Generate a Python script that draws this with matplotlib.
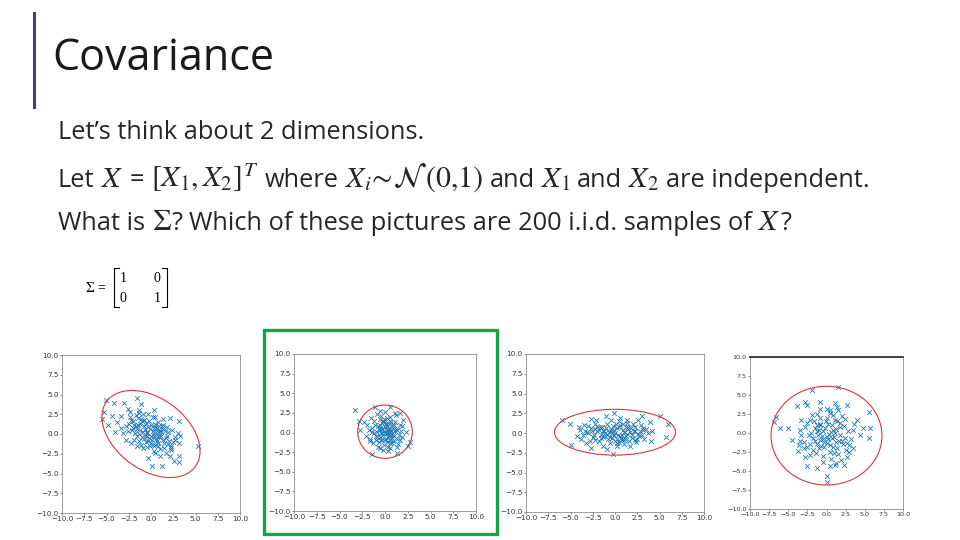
import matplotlib.pyplot as plt
from matplotlib.patches import Ellipse, Rectangle
from matplotlib.lines import Line2D
from matplotlib.offsetbox import TextArea, HPacker, AnnotationBbox

plt.rcParams['mathtext.fontset'] = 'stix'

# ---- slide text ----
title = "Covariance"
line1 = "Let\u2019s think about 2 dimensions."
# words of each line as (text, is_math); a list glues its parts with no space
line2 = [("Let", 0), ("$X$", 1), ("=", 0), ("$[X_1, X_2]^T$", 1), ("where", 0),
         (r"$X_i\!\sim\!\mathcal{N}\,(0{,}1)$", 1), ("and", 0), ("$X_1$", 1), ("and", 0),
         ("$X_2$", 1), ("are independent.", 0)]
line3 = [("What is", 0), [(r"$\Sigma$", 1), ("?", 0)],
         ("Which of these pictures are 200 i.i.d. samples of", 0), [("$X$", 1), ("?", 0)]]
sigma_rows = [["1", "0"], ["0", "1"]]
ticks = [-10, -7.5, -5, -2.5, 0, 2.5, 5, 7.5, 10]

# ---- sample clouds ----
p1_x = [-5.1, -4.2, -3.0, -1.6, -1.1, -5.3, -4.4, -3.4, -2.6, -2.4, -5.5, -4.8, -3.8, -4.0, -3.4,
        -3.1, -2.8, -2.5, -2.0, -1.7, -1.4, -0.9, -0.8, -0.3, 0.3, 0.5, 0.8, 1.3, 2.1, 3.2,
        1.3, 1.8, 2.4, 3.0, 3.3, 2.7, 3.1, 2.3, 1.5, 0.8, 0.3, -0.1, -0.9, -1.6, -2.2,
        5.3, 3.2, 2.6, 2.1, 1.0, 1.2, 0.1, -0.3, 3.1, 1.7,
        -1.2, -0.8, -0.5, 0.2, 0.6, -0.3, 0.9, -1.5, -1.0, 0.4, 1.1, -0.6, 0.1, 1.4, -1.8,
        -0.2, 0.8, -1.3, 1.7, 0.3, -0.9, -2.0, -1.6, 0.0, 0.7, 1.2, 2.0, -0.4, 0.5, -2.3,
        -1.1, 1.9, 2.5, -0.7, 0.0, -2.6, -1.9, 1.0, 0.2, -1.4,
        -0.5, 0.3, -1.7, 1.5, -0.1, 0.9, -1.2, 0.6, -2.1, 1.8, -0.8, 0.2, 1.1, -1.5, 0.4,
        -0.3, 2.2, -2.4, 0.7, -0.6, 1.3, -1.0, 0.0, 1.6, -1.9, 0.5, -0.4, 2.7, -2.8, 0.9,
        -1.3, 1.0, -0.2, 0.3, -0.7, 1.9, -1.1, 0.8, -1.6, 2.3]
p1_y = [4.3, 3.9, 3.9, 4.6, 3.8, 2.8, 2.3, 2.3, 3.2, 2.8, 1.9, 1.2, 1.5, 0.3, 0.7,
        0.1, -0.7, 1.3, 1.6, 2.4, 3.0, 2.5, 1.8, 2.5, 3.0, 2.1, 1.5, 1.9, 2.0, 1.7,
        1.1, 0.9, 0.5, 0.1, -0.3, -0.7, -1.2, -1.5, -1.8, -1.5, -2.1, -1.5, -1.8, -1.5, -1.2,
        -1.5, -2.8, -3.4, -2.8, -2.8, -4.0, -4.1, -3.1, -3.5, -2.4,
        0.5, 1.0, -0.3, 0.4, -0.6, 0.9, 0.2, 1.2, -0.4, 1.3, -0.2, -1.0, -0.8, 0.6, 0.1,
        1.6, -1.2, -0.9, -0.5, 0.0, 0.2, 0.8, -0.3, 1.1, 0.8, 1.0, -0.9, -1.6, -1.4, 1.8,
        1.9, 0.3, -1.0, 0.6, -0.2, 0.4, -0.8, -1.9, 2.2, 2.6,
        0.1, -0.3, 1.0, -1.1, 0.6, -0.4, 1.3, 0.2, 0.5, -0.2, -0.6, -1.4, 0.3, 2.0, 0.9,
        -0.9, -1.8, 2.1, -0.9, 1.4, -0.7, 1.6, -1.1, 0.4, 1.1, -2.4, 0.2, -0.4, 1.0, 1.0,
        0.0, 0.5, -0.5, 0.8, -0.2, -1.3, -1.4, -0.3, 0.6, -2.0]

p2_x = [-3.3, -2.9, -2.3, -2.7, -2.1, -1.4, -1.1, -0.6, 0.6, 1.05, 1.6, 1.9, 2.3, 1.6, 2.5,
        2.8, 1.3, 0.35, -0.5, 1.3,
        -0.5, 0.2, 0.7, -1.0, 0.1, 1.2, -0.3, 0.5, -1.4, 0.9, -0.7, 0.0, 1.5, -1.2, 0.4,
        -0.2, 0.8, -0.9, 0.3, 1.1, -1.6, 0.6, -0.4, 1.8, -0.1, 0.2, -1.8, 1.3, -0.6, 0.7,
        0.0, -1.1, 1.0, -0.8, 0.5, 1.6, -0.3, 0.3, -1.3, 0.9, -0.6, 0.1, 1.4, -0.2, 0.6,
        -2.0, -1.7, 2.0, 0.0, 1.2, -0.9, 0.4, -0.4, 0.8, -0.1, 1.9, -1.5, 0.2,
        0.1, -0.4, 0.6, -0.8, 0.3, 0.9, -0.2, -1.0, 0.5, 0.0, -0.6, 1.1, -0.3, 0.4, -1.2,
        0.8, 0.2, -0.5, 0.7, -0.1, 1.3, -0.9, 0.3, -0.7, 0.6, 0.0, -0.3, 1.0, -1.4, 0.5]
p2_y = [2.9, 1.5, 1.4, 0.3, -0.5, -2.8, 3.2, 2.8, 3.2, 2.5, 2.5, 0.8, 0.1, -0.9, -1.7,
        -1.2, -1.9, -2.3, -2.0, -2.6,
        0.3, 0.8, -0.2, -0.4, -0.9, 0.5, 1.2, 1.5, 0.6, -1.1, -1.2, 0.0, -0.3, 1.5, -0.5,
        -0.3, 0.9, 0.1, 0.3, 1.4, -0.8, 2.0, 2.1, 0.2, -1.6, 1.9, 0.3, -0.8, -0.6, 0.2,
        0.7, 1.0, -0.5, -1.8, -1.3, 1.0, 0.5, -0.1, -1.3, 0.6, 1.7, 1.1, -1.5, -2.2, -2.0,
        1.0, -1.1, 1.6, 2.6, 2.2, 2.4, 0.6, -0.9, -0.7, 0.2, -0.6, 1.9, -1.2,
        0.4, -0.1, 0.5, 0.8, -0.6, -0.3, 1.5, -0.9, 0.1, -0.8, 0.9, 0.2, -1.0, 1.1, -0.1,
        -1.4, 0.0, 0.6, 1.3, 1.7, 0.3, -0.6, -1.8, 0.4, -0.9, 1.4, 0.0, 0.9, 0.1, -0.3]

p3_x = [-5.9, -5.05, -4.9, -4.1, -3.8, -3.5, -2.7, -2.7, -2.1, -1.7, -1.0, -0.9, -0.2, -0.1, 0.6,
        1.3, 1.7, 2.6, 3.0, 3.9, 4.2, 4.0, 5.1, 5.7, 6.0, 3.2, 2.2, 1.0, 0.2, -1.3,
        -2.2, -3.0, -3.4, -3.9,
        -0.5, 0.2, 0.8, -1.2, 1.5, -2.0, 2.2, -0.3, 0.6, -1.5, 1.9, -2.5, 2.8, 0.0, -0.9,
        1.1, -1.8, 2.5, 0.4, -0.6, 1.4, -2.3, 3.0, -3.0, 0.9, -0.2, 1.7, -1.1, 0.3, 2.0,
        -1.6, -0.8, 1.2, -2.8, 3.5, -3.6, 0.5, -0.4, 1.0, -1.3, 2.4, -2.2, 0.7, -0.1, 1.8,
        -1.0, 2.9, -2.6, 0.1, 1.3, -0.7, 3.3, -3.3, 0.2, 1.6,
        -1.4, 0.6, 2.1, -0.4, 1.0, -2.4, 3.1, -1.8, 0.2, 2.6, -0.9, 1.5, -3.2, 0.8, -0.1,
        1.9, -2.0, 0.4, -1.2, 2.3, -0.6, 1.2, -2.7, 3.7, 0.0, -1.6, 2.7, -0.3, 0.9, -4.3]
p3_y = [1.7, 1.2, -1.5, 0.7, -0.8, 1.0, 1.8, -1.9, 1.65, 0.7, 2.2, -2.0, -2.6, 2.5, 1.9,
        1.65, -1.65, 1.7, 2.1, 1.4, 0.2, -1.0, 2.2, -0.5, 1.2, 0.4, -0.9, -0.9, -1.3, -0.5,
        -0.9, 0.0, 0.3, 0.4,
        0.3, 0.6, -0.2, -0.4, 0.5, 0.2, 0.8, -0.6, 1.0, 0.8, -0.3, -0.5, 0.3, 0.0, 1.2,
        -0.8, -1.0, -0.7, -1.1, -1.3, 1.3, 1.1, -0.2, 0.9, 0.4, 0.9, 0.1, 0.0, -0.3, 1.1,
        -0.2, -0.8, 0.8, -1.0, 0.5, -0.3, 1.5, 1.6, -1.4, -1.6, -1.2, 0.5, -0.6, -0.2, 0.6,
        0.6, 1.0, 0.3, 1.2, -0.1, 0.1, -0.8, -1.3, -1.7, -1.0,
        0.2, -0.4, 0.3, 0.5, 0.1, -0.2, 0.6, 0.4, -0.7, -0.1, -0.3, 0.7, 0.1, -0.9, 0.4,
        -0.6, 0.9, 0.7, 0.3, 0.2, -0.5, -0.4, 0.6, 0.0, -1.0, -0.6, -0.4, 0.0, 1.2, -0.4]

p4_x = [-1.9, 1.5, -6.9, -6.6, -6.1, -5.0, 5.6, 5.7, 5.5, 4.8, 4.4, 4.0, 3.5, 2.7, 2.3,
        1.1, 0.0, 0.04, -1.3, -2.5, -2.8, -3.7, -3.4, -4.5, -3.4, -3.3, -3.8, -2.8, -2.5, -0.8,
        -0.8, 1.1, 1.35, 2.7, 2.4, 0.5, -1.3, -2.1,
        -0.5, 1.0, -1.5, 0.2, 1.8, -1.0, 2.2, 0.5, -2.0, 1.4, -0.3, 0.8, -1.2, 2.8, -2.5,
        0.0, 1.5, -0.8, 2.0, -1.8, 0.4, -0.5, 1.2, 3.2, -2.8, 0.9, -1.4, 2.5, -0.2, 1.7,
        -1.1, 0.6, -2.2, 3.6, -3.0, 0.1, 1.1, -0.7, 2.3, -1.6, 0.3, 1.9, -0.4, -1.0, 0.7,
        2.9, -2.6, 1.5, -0.9, 0.0, 3.0, -3.3, 0.5, -1.9, 1.3,
        0.2, -1.3, 1.6, -0.6, 2.4, -2.1, 0.9, -0.1, 1.3, -1.7, 0.6, -0.9, 2.0, -2.9, 1.0,
        -0.3, 0.4, -1.5, 2.7, -0.5, 1.8, -2.3, 0.1, 1.1, -1.2, 0.7, 3.4, -3.6, -0.8, 1.4]
p4_y = [5.6, 6.1, 1.5, 2.1, 0.6, 0.6, 2.8, 0.6, -0.7, 0.6, -0.3, 1.7, -2.0, -3.1, -4.2,
        -4.2, -5.7, -6.4, -4.6, -4.3, -3.1, -2.4, -1.1, -0.9, 0.4, 1.7, 3.5, 4.1, 3.7, 4.1,
        3.2, 3.9, 3.4, 3.7, 1.8, 3.0, 2.5, 1.7,
        0.3, -0.5, -1.0, 1.2, 0.8, -2.0, -1.5, -2.5, 0.0, 1.6, -1.2, 0.4, 1.0, 0.2, -1.8,
        -0.5, -2.8, 2.0, 2.2, -0.6, -1.6, -3.0, -1.2, -0.8, 0.8, 2.4, -2.6, -2.2, 0.6, -0.2,
        -0.3, -3.4, -2.9, 1.2, -1.2, 2.0, 0.0, -1.7, 0.9, 1.6, -0.1, -3.5, -3.8, 0.4, 1.0,
        -2.5, 1.3, 3.0, -0.9, 3.2, -1.6, -0.2, -4.3, 2.4, -3.9,
        -0.8, 0.2, -1.0, -0.4, -0.7, -1.5, -1.9, 1.6, 0.5, -2.3, 0.1, 1.2, -1.0, -2.0, -2.6,
        -1.9, 2.6, 0.6, -1.3, -0.8, 1.3, -0.3, -1.3, 1.7, -1.4, -0.6, 0.4, -1.6, 1.1, -2.0]

# ellipse outlines drawn on each picture: centre, full width, full height, angle
ell_center = [(0.0, 0.0), (0.0, 0.1), (0.0, 0.1), (0.0, -0.35)]
ell_width = [13.0, 6.0, 13.6, 14.5]
ell_height = [8.6, 6.8, 5.8, 13.0]
ell_angle = [-45, 0, 0, 0]

panels = [(p1_x, p1_y), (p2_x, p2_y), (p3_x, p3_y), (p4_x, p4_y)]
# axes boxes in pixels: left, right, top, bottom
boxes = [(62, 240, 355, 513), (294, 476, 354, 511), (526, 704, 354, 512), (750, 903, 357, 509)]

W, H = 960, 540
fig = plt.figure(figsize=(9.6, 5.4), dpi=100)


def fx(px):
    return px / W


def fy(py):
    return 1 - py / H


TXT = dict(family='Open Sans', color='#262626')

# accent bar and title
fig.add_artist(Line2D([fx(34), fx(34)], [fy(13), fy(107)], color='#4b3c78', lw=2.2))
fig.text(fx(52), fy(59), title, fontsize=31, family='Open Sans', color='#1a1a1a', va='center')

fig.text(fx(58), fy(133), line1, fontsize=18.3, va='center', **TXT)


def word(piece):
    if isinstance(piece, list):
        return HPacker(children=[word(p) for p in piece], align='baseline', pad=0, sep=0)
    s, m = piece
    return TextArea(s, textprops=dict(fontsize=21.5 if m else 18.3, **TXT))


def mixed_line(pieces, y):
    pack = HPacker(children=[word(p) for p in pieces], align='baseline', pad=0, sep=4.6)
    fig.add_artist(AnnotationBbox(pack, (fx(58), fy(y)), xycoords='figure fraction',
                                  box_alignment=(0, 0.5), frameon=False, pad=0))


mixed_line(line2, 178)
mixed_line(line3, 222)

# sigma matrix
fig.text(fx(85), fy(288), r"$\Sigma$ =", fontsize=10, family='Liberation Serif', va='center')
for r, row in enumerate(sigma_rows):
    for c, v in enumerate(row):
        fig.text(fx(123 + c * 34), fy(278 + r * 20), v, fontsize=10,
                 family='Liberation Serif', ha='center', va='center')
for xb, d in [(114, 5), (167, -5)]:
    fig.add_artist(Line2D([fx(xb + d), fx(xb), fx(xb), fx(xb + d)],
                          [fy(268), fy(268), fy(307), fy(307)], color='black', lw=0.8))

for k, ((xs, ys), (l, r, t, b)) in enumerate(zip(panels, boxes)):
    ax = fig.add_axes([fx(l), fy(b), (r - l) / W, (b - t) / H])
    ax.scatter(xs, ys, marker='x', s=11, linewidths=0.6, color='#1f77b4')
    ax.add_patch(Ellipse(ell_center[k], ell_width[k], ell_height[k], angle=ell_angle[k],
                         fill=False, edgecolor='#d9363e', lw=0.8))
    ax.set_xlim(-10, 10)
    ax.set_ylim(-10, 10)
    ax.set_xticks(ticks)
    ax.set_yticks(ticks)
    ax.tick_params(labelsize=4.6 if k == 3 else 5.2, length=1.5, width=0.4, pad=1,
                   colors='#333333')
    for s in ax.spines.values():
        s.set_linewidth(0.5)
        s.set_color('#777777')
    if k == 3:
        ax.spines['top'].set_color('#222222')
        ax.spines['top'].set_linewidth(1.2)

# green box around the right answer
fig.add_artist(Rectangle((fx(264), fy(534)), (497 - 264) / W, (534 - 330) / H,
                         fill=False, edgecolor='#16a34a', lw=2.4))

fig.savefig('out.png', dpi=100)
